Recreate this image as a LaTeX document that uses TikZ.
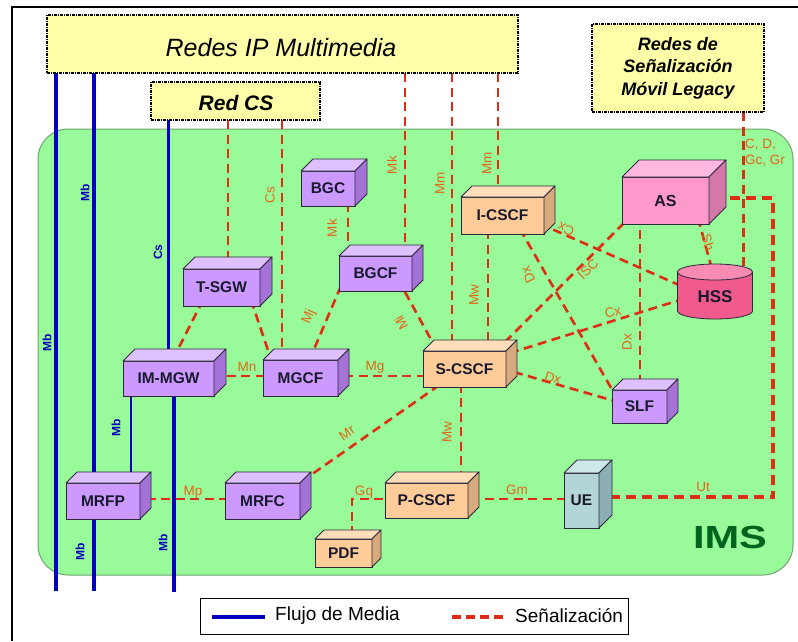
\documentclass[tikz,border=0pt]{standalone}
\usepackage{fontspec}
\setmainfont{Liberation Sans}
\usetikzlibrary{calc}

\definecolor{imsgreen}{RGB}{152,250,152}
\definecolor{imsedge}{RGB}{110,165,110}
\definecolor{imsdark}{RGB}{0,100,30}
\definecolor{netyellow}{RGB}{255,255,170}
\definecolor{sigred}{RGB}{222,45,20}
\definecolor{lblorange}{RGB}{228,100,25}
\definecolor{mediablue}{RGB}{0,0,190}
\definecolor{boxedge}{RGB}{45,40,60}
\definecolor{boxtext}{RGB}{25,25,45}
\definecolor{purfront}{RGB}{204,153,255}
\definecolor{purtop}{RGB}{222,192,255}
\definecolor{purside}{RGB}{165,115,215}
\definecolor{pchfront}{RGB}{255,204,153}
\definecolor{pchtop}{RGB}{255,222,185}
\definecolor{pchside}{RGB}{215,170,125}
\definecolor{pnkfront}{RGB}{255,153,204}
\definecolor{pnktop}{RGB}{255,185,222}
\definecolor{pnkside}{RGB}{212,120,170}
\definecolor{uefront}{RGB}{178,214,214}
\definecolor{uetop}{RGB}{205,232,232}
\definecolor{ueside}{RGB}{140,175,180}
\definecolor{hssbody}{RGB}{240,90,140}
\definecolor{hsstop}{RGB}{248,140,178}

\pgfdeclarelayer{bg}
\pgfdeclarelayer{links}
\pgfsetlayers{bg,links,main}

% top and right faces of a 3D box whose front face is node #1
\newcommand\cubesides[4]{%
  \filldraw[fill=#3,draw=boxedge,line width=0.8pt,line join=round]
    (#1.north west) -- ([shift={(#2,-#2)}]#1.north west)
    -- ([shift={(#2,-#2)}]#1.north east) -- (#1.north east) -- cycle;
  \filldraw[fill=#4,draw=boxedge,line width=0.8pt,line join=round]
    (#1.north east) -- ([shift={(#2,-#2)}]#1.north east)
    -- ([shift={(#2,-#2)}]#1.south east) -- (#1.south east) -- cycle;
}

\begin{document}
\begin{tikzpicture}[x=1pt,y=-1pt,
  cube/.style={draw=boxedge,line width=0.8pt,inner sep=0pt,outer sep=0pt,
    text=boxtext,font=\bfseries\fontsize{15.5}{15.5}\selectfont},
  extnet/.style={draw=black,fill=netyellow,line width=2pt,
    dash pattern=on 3pt off 1pt on 1pt off 1pt,inner sep=0pt,outer sep=0pt},
  sig/.style={draw=sigred,line width=2.6pt,dash pattern=on 9pt off 5.5pt},
  sigthick/.style={draw=sigred,line width=3.8pt,dash pattern=on 10pt off 6pt},
  media/.style={draw=mediablue,line width=3.5pt},
  mediathin/.style={draw=mediablue,line width=2pt},
  lbl/.style={text=lblorange,font=\fontsize{13.5}{13.5}\selectfont,inner sep=0pt},
  mblbl/.style={text=mediablue,font=\bfseries\fontsize{12}{12}\selectfont,
    inner sep=0pt,rotate=90},
]
\useasboundingbox (0,0) rectangle (798,641);

\begin{pgfonlayer}{bg}
  \fill[white] (0,0) rectangle (798,641);
  \draw[line width=2pt] (12,641) -- (12,7) -- (798,7);
  % IMS domain
  \draw[fill=imsgreen,draw=imsedge,line width=1pt,rounded corners=30pt]
    (38,129) rectangle (793,575);
\end{pgfonlayer}

% external networks
\node[extnet,minimum width=471pt,minimum height=58pt,line width=2.5pt] (ipnet) at (282.5,44) {};
\node[font=\itshape\fontsize{25}{25}\selectfont] (iptext) at (281,48) {Redes IP Multimedia};
\node[extnet,minimum width=169pt,minimum height=38pt] (redcs) at (235.5,101) {};
\node[font=\bfseries\itshape\fontsize{21}{21}\selectfont] (redcstext) at (236,102.5) {Red CS};
\node[extnet,minimum width=172pt,minimum height=88pt] (legacy) at (678,68) {};
\node[font=\bfseries\itshape\fontsize{18}{22.5}\selectfont,align=center] (legacytext) at (678,68)
  {Redes de\\Se\~nalizaci\'on\\M\'ovil Legacy};

% IMS functions
\node[cube,fill=purfront,minimum width=54pt,minimum height=35pt] (bgc) at (328,188.5) {BGC};
\cubesides{bgc}{12}{purtop}{purside}
\node[cube,fill=purfront,minimum width=73pt,minimum height=35pt] (bgcf) at (375.5,273.5) {BGCF};
\cubesides{bgcf}{11}{purtop}{purside}
\node[cube,fill=purfront,minimum width=77pt,minimum height=37pt] (tsgw) at (221.5,287.5) {T-SGW};
\cubesides{tsgw}{12}{purtop}{purside}
\node[cube,fill=purfront,minimum width=91pt,minimum height=35pt] (immgw) at (168.5,378.5) {IM-MGW};
\cubesides{immgw}{12}{purtop}{purside}
\node[cube,fill=purfront,minimum width=75pt,minimum height=36pt] (mgcf) at (300.5,378) {MGCF};
\cubesides{mgcf}{11}{purtop}{purside}
\node[cube,fill=pchfront,minimum width=83pt,minimum height=37pt] (icscf) at (502.5,215.5) {I-CSCF};
\cubesides{icscf}{11}{pchtop}{pchside}
\node[cube,fill=pnkfront,minimum width=87pt,minimum height=47pt,font=\bfseries\fontsize{16}{16}\selectfont] (as) at (665.5,200.5) {AS};
\cubesides{as}{17}{pnktop}{pnkside}
\node[cube,fill=pchfront,minimum width=83pt,minimum height=36pt] (scscf) at (464.5,369) {S-CSCF};
\cubesides{scscf}{11}{pchtop}{pchside}
\node[cube,fill=purfront,minimum width=55pt,minimum height=33pt] (slf) at (639.5,406.5) {SLF};
\cubesides{slf}{11}{purtop}{purside}
\node[cube,fill=purfront,minimum width=74pt,minimum height=36pt] (mrfp) at (103,501) {MRFP};
\cubesides{mrfp}{11}{purtop}{purside}
\node[cube,fill=purfront,minimum width=75pt,minimum height=36pt] (mrfc) at (262.5,501) {MRFC};
\cubesides{mrfc}{11}{purtop}{purside}
\node[cube,fill=pchfront,minimum width=83pt,minimum height=35pt] (pcscf) at (426.5,500.5) {P-CSCF};
\cubesides{pcscf}{11}{pchtop}{pchside}
\node[cube,fill=pchfront,minimum width=57pt,minimum height=28pt] (pdf) at (343.5,553) {PDF};
\cubesides{pdf}{9}{pchtop}{pchside}
\node[cube,fill=uefront,minimum width=35pt,minimum height=55pt] (ue) at (581.5,500.5) {UE};
\cubesides{ue}{13}{uetop}{ueside}

% HSS database cylinder
\fill[hssbody] (677.5,272) rectangle (752.5,311);
\fill[hssbody] (715,311) ellipse[x radius=37.5pt,y radius=8pt];
\draw[boxedge,line width=0.8pt] (677.5,272) -- (677.5,311);
\draw[boxedge,line width=0.8pt] (752.5,272) -- (752.5,311);
\begin{scope}
  \clip (670,311) rectangle (760,325);
  \draw[boxedge,line width=0.8pt] (715,311) ellipse[x radius=37.5pt,y radius=8pt];
\end{scope}
\filldraw[fill=hsstop,draw=boxedge,line width=0.8pt] (715,272) ellipse[x radius=37.5pt,y radius=8pt];
\node[text=boxtext,font=\bfseries\fontsize{17}{17}\selectfont,inner sep=0pt] (hss) at (715,297) {HSS};

% media flows
\begin{pgfonlayer}{links}
  \coordinate (mbA) at (56,591);
  \coordinate (mbB) at (94,591);
  \coordinate (mbC) at (174,592);
  \draw[media] (mbA |- ipnet.south) -- (mbA);
  \draw[media] (mbB |- ipnet.south) -- (mbB);
  \draw[media] (immgw.center |- redcs.south) -- (immgw.center);
  \draw[mediathin] ($(immgw.center)+(-37.5,0)$) -- ($(mrfp.center)+(28,0)$);
  \draw[media] ($(immgw.center)+(5.5,0)$) -- (mbC);

  % signalling towards external networks
  \coordinate (tsLow) at ($(tsgw.center)+(6.5,0)$);
  \draw[sig] (tsLow |- redcs.south) -- (tsLow);
  \coordinate (csLow) at ($(mgcf.center)+(-18.5,0)$);
  \draw[sig] (csLow |- redcs.south) -- (csLow);
  \coordinate (mkLow) at ($(bgcf.center)+(29.5,0)$);
  \draw[sig] (mkLow |- ipnet.south) -- (mkLow);
  \coordinate (mmA) at ($(scscf.center)+(-12.5,0)$);
  \draw[sig] (mmA |- ipnet.south) -- (mmA);
  \coordinate (mmB) at ($(icscf.center)+(-4.5,0)$);
  \draw[sig] (mmB |- ipnet.south) -- (mmB);
  \coordinate (cdLow) at ($(hss.center)+(28.5,-10)$);
  \draw[sig] (cdLow |- legacy.south) -- (cdLow);

  % Ut from AS round to UE
  \coordinate (utA) at (773,198);
  \coordinate (utB) at (773,497);
  \draw[sigthick] ($(as.center)+(0,-2.5)$) -- (utA) -- (utB) -- (ue.center |- utB);

  % signalling inside IMS
  \draw[sig] ($(pcscf.center)+(0,-1.5)$) -- ($(ue.center)+(0,-1.5)$);
  \draw[sig] ($(pcscf.center)+(0,-1.5)$) -| ($(pdf.center)+(8.5,0)$);
  \coordinate (mwLow) at ($(scscf.center)+(-3.5,0)$);
  \draw[sig] (mwLow) -- (mwLow |- pcscf.center);
  \draw[sig] ($(mgcf.center)+(0,-2)$) -- ($(scscf.center)+(0,7)$);
  \draw[sig] ($(immgw.center)+(0,-2.5)$) -- ($(mgcf.center)+(0,-2)$);
  \draw[sig] ($(mrfp.center)+(0,-2)$) -- ($(mrfc.center)+(0,-2)$);
  \draw[sig] ($(scscf.center)+(-25,16)$) -- ($(mrfc.center)+(34,-16)$);
  \draw[sig] ($(tsgw.center)+(-18.5,12.5)$) -- ($(immgw.center)+(1.5,-13.5)$);
  \draw[sig] ($(tsgw.center)+(29.5,12.5)$) -- ($(mgcf.center)+(-28.5,-16)$);
  \draw[sig] ($(bgcf.center)+(-34.5,12.5)$) -- ($(mgcf.center)+(12.3,-26)$);
  \draw[sig] ($(bgc.center)+(20,0)$) -- ($(bgcf.center)+(-27.5,0)$);
  \draw[sig] ($(bgcf.center)+(29.5,18.5)$) -- ($(scscf.center)+(-30.5,-24)$);
  \draw[sig] ($(icscf.center)+(-14.5,0)$) -- ($(scscf.center)+(23.5,0)$);
  \draw[sig] ($(icscf.center)+(37.5,8.3)$) -- ($(hss.center)+(-15.5,-3)$);
  \draw[sig] ($(icscf.center)+(17.5,13.5)$) -- ($(slf.center)+(-21.5,-6.5)$);
  \draw[sig] ($(scscf.center)+(40.5,-27)$) -- ($(as.center)+(-35.5,16.5)$);
  \draw[sig] ($(scscf.center)+(45.5,-16)$) -- ($(hss.center)+(-25.5,0)$);
  \draw[sig] ($(scscf.center)+(35.5,-1)$) -- ($(slf.center)+(-14.5,-2.5)$);
  \draw[sig] ($(as.center)+(-25.5,0)$) -- ($(slf.center)+(0.5,0)$);
  \draw[sig] ($(as.center)+(32.5,17.5)$) -- ($(hss.center)+(-2.5,-26)$);
\end{pgfonlayer}

% media labels
\node[mblbl] (lmb1) at (85,193) {Mb};
\node[mblbl] (lmb2) at (47,343) {Mb};
\node[mblbl] (lcs1) at (158,252) {Cs};
\node[mblbl] (lmb3) at (116,428) {Mb};
\node[mblbl] (lmb4) at (80,552) {Mb};
\node[mblbl] (lmb5) at (163,543) {Mb};

% signalling labels
\node[lbl,rotate=90] (lcs2) at (270,195) {Cs};
\node[lbl,rotate=90] (lmk1) at (392,165) {Mk};
\node[lbl,rotate=90] (lmm1) at (440,183) {Mm};
\node[lbl,rotate=90] (lmm2) at (487,163) {Mm};
\node[lbl,rotate=90] (lmk2) at (332,228) {Mk};
\node[lbl,rotate=67] (lmj) at (309,317) {Mj};
\node[lbl,rotate=119] (lmi) at (401,323) {Mi};
\node[lbl,rotate=90] (lmw1) at (474,295) {Mw};
\node[lbl,rotate=156] (lcx1) at (566,229) {Cx};
\node[lbl,rotate=115] (ldx1) at (528,275) {Dx};
\node[lbl,rotate=44] (lisc) at (588,269) {ISC};
\node[lbl,rotate=16] (lcx2) at (613,312) {Cx};
\node[lbl,rotate=-16] (ldx2) at (553,378) {Dx};
\node[lbl,rotate=90] (ldx3) at (627,342) {Dx};
\node[lbl,rotate=-74] (lsh) at (708,242) {Sh};
\node[lbl,anchor=west,align=left,font=\fontsize{13.5}{16}\selectfont] (lcd) at (745,153) {C, D,\\Gc, Gr};
\node[lbl] (lmn) at (247,367) {Mn};
\node[lbl] (lmg) at (375,367) {Mg};
\node[lbl,rotate=35] (lmr) at (347,433) {Mr};
\node[lbl,rotate=90] (lmw2) at (447,432) {Mw};
\node[lbl] (lmp) at (193,492) {Mp};
\node[lbl] (lgq) at (364,492) {Gq};
\node[lbl] (lgm) at (517,490) {Gm};
\node[lbl] (lut) at (703,487) {Ut};

% domain name
\node[text=imsdark,font=\bfseries\fontsize{32}{32}\selectfont,inner sep=0pt] (imsname) at (730,537) {\scalebox{1.3}[1]{IMS}};

% legend
\node[draw=black,fill=white,line width=0.8pt,minimum width=428pt,minimum height=36pt,inner sep=0pt] (legend) at (414,616) {};
\draw[media] ($(legend.west)+(12,1)$) -- ++(53,0);
\node[anchor=west,inner sep=0pt,font=\fontsize{19}{19}\selectfont] (lgmedia) at (275,616) {Flujo de Media};
\draw[sigthick,dash pattern=on 9pt off 5pt] ($(legend.west)+(252,1)$) -- ++(53,0);
\node[anchor=west,inner sep=0pt,font=\fontsize{19}{19}\selectfont] (lgsig) at (515,616) {Se\~nalizaci\'on};
\end{tikzpicture}
\end{document}
